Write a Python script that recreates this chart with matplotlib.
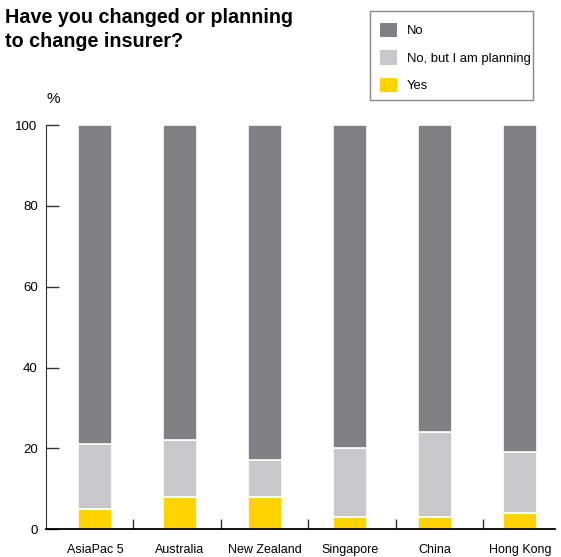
import matplotlib.pyplot as plt
from matplotlib.patches import Rectangle
import numpy as np

plt.rcParams['font.family'] = ['Liberation Sans', 'DejaVu Sans']

countries = ["AsiaPac 5", "Australia", "New Zealand", "Singapore", "China", "Hong Kong"]
yes = [5, 8, 8, 3, 3, 4]
planning = [16, 14, 9, 17, 21, 15]
no = [79, 78, 83, 80, 76, 81]

c_no = '#807f83'
c_plan = '#c8c8ca'
c_yes = '#ffd200'

fig = plt.figure(figsize=(5.61, 5.57), dpi=100)
ax = fig.add_axes([0.082, 0.050, 0.907, 0.7253])

x = np.arange(len(countries))
width = 0.41
yes = np.array(yes)
planning = np.array(planning)
no = np.array(no)

b_yes = ax.bar(x, yes, width, color=c_yes, edgecolor='white', linewidth=1.2, label='Yes')
b_plan = ax.bar(x, planning, width, bottom=yes, color=c_plan, edgecolor='white', linewidth=1.2,
                label='No, but I am planning')
b_no = ax.bar(x, no, width, bottom=yes + planning, color=c_no, edgecolor='white', linewidth=1.2,
              label='No')

ax.set_ylim(0, 100)
ax.set_xlim(-0.576, 5.41)
ax.set_yticks([0, 20, 40, 60, 80, 100])
ax.tick_params(axis='y', direction='in', length=9, width=1, colors='#333333',
               labelcolor='black', labelsize=9.5, pad=6)
ax.set_xticks(x)
ax.set_xticklabels(countries)
ax.tick_params(axis='x', which='major', length=0, labelsize=9, pad=11)
# separators between the country groups
ax.set_xticks([0.45, 1.48, 2.51, 3.54, 4.57], minor=True)
ax.tick_params(axis='x', which='minor', direction='in', length=7, width=1, colors='#333333')

for s in ['top', 'right']:
    ax.spines[s].set_visible(False)
ax.spines['left'].set_color('#333333')
ax.spines['bottom'].set_color('black')
ax.spines['bottom'].set_linewidth(1.3)

fig.text(0.083, 0.815, '%', fontsize=11)
fig.text(0.009, 0.985, 'Have you changed or planning\nto change insurer?', fontsize=14.2,
         fontweight='bold', va='top', linespacing=1.3)

# legend box drawn separately so the frame can be tight on the right
fig.patches.append(Rectangle((0.6595, 0.8205), 0.2906, 0.1598, transform=fig.transFigure,
                             facecolor='white', edgecolor='#888888', linewidth=1))
leg = fig.legend(handles=[b_no, b_plan, b_yes],
                 labels=['No', 'No, but I am planning', 'Yes'],
                 loc='upper left', bbox_to_anchor=(0.6774, 0.959),
                 fontsize=9.4, handlelength=1.3, handleheight=1.3,
                 labelspacing=1.0, handletextpad=0.75, borderpad=0,
                 frameon=False, borderaxespad=0)
for h in leg.legend_handles:
    h.set_edgecolor('none')

fig.savefig('out.png', dpi=100)
